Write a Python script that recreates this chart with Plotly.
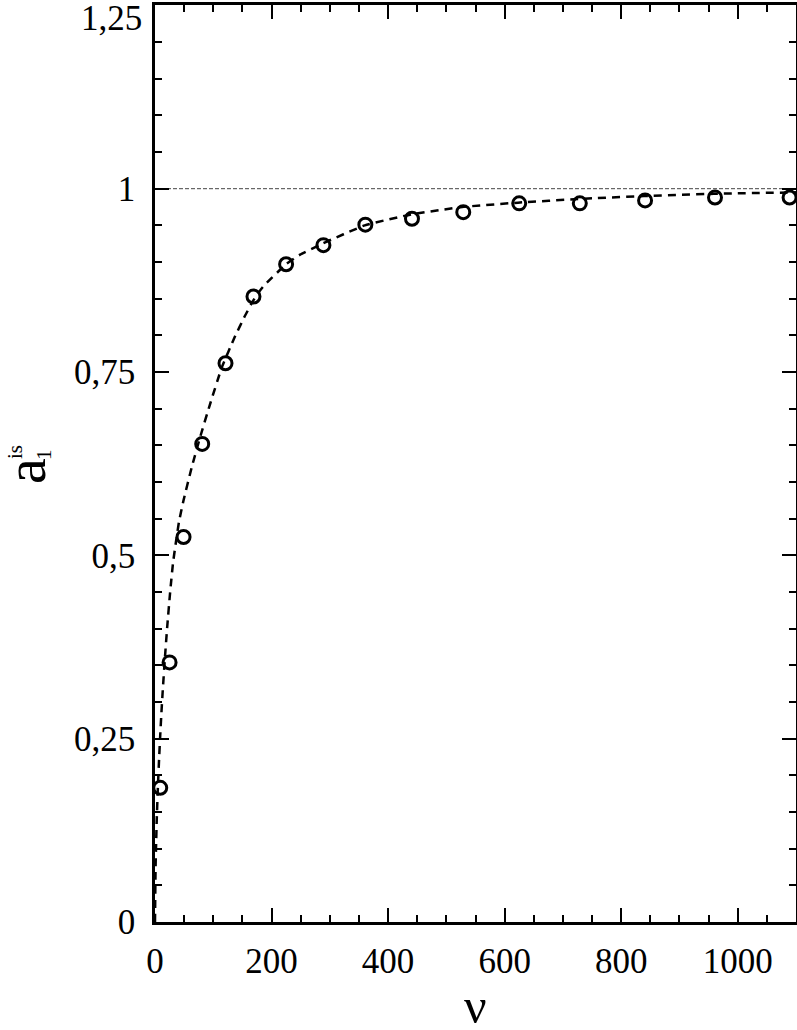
import plotly.graph_objects as go

# measured points (nu = n^2)
nu_pts = [9, 25, 49, 81, 121, 169, 225, 289, 361, 441, 529, 625, 729, 841, 961, 1089]
a_pts = [0.183, 0.354, 0.525, 0.652, 0.762, 0.853, 0.897, 0.923, 0.951, 0.959,
         0.968, 0.980, 0.980, 0.984, 0.988, 0.988]

# fitted curve
nu_fit = [0, 1, 2, 3, 5, 7, 9, 11, 13, 17, 21, 26, 31, 41, 49, 63, 77, 94, 115, 137,
          154, 169, 185, 225, 249, 287, 360, 440, 527, 623, 728, 839, 959, 1100]
a_fit = [0, 0.075, 0.11, 0.14, 0.185, 0.222, 0.255, 0.285, 0.312, 0.36, 0.403, 0.45,
         0.49, 0.545, 0.575, 0.62, 0.66, 0.705, 0.757, 0.798, 0.826, 0.848, 0.866,
         0.897, 0.91, 0.925, 0.950, 0.965, 0.975, 0.981, 0.986, 0.990, 0.993, 0.995]

# limit line
nu_lim = [0, 1100]
a_lim = [1, 1]

x_ticks = [0, 200, 400, 600, 800, 1000]
x_labels = ["0", "200", "400", "600", "800", "1000"]
y_ticks = [0, 0.25, 0.5, 0.75, 1, 1.25]
y_labels = ["0", "0,25", "0,5", "0,75", "1", ""]
y_top_label = "1,25"

FONT = "Liberation Serif"

fig = go.Figure()
fig.add_trace(go.Scatter(x=nu_lim, y=a_lim, mode="lines",
                         line=dict(color="#444444", width=1, dash="4px,2px"),
                         showlegend=False, hoverinfo="skip"))
fig.add_trace(go.Scatter(x=nu_fit, y=a_fit, mode="lines",
                         line=dict(color="black", width=2.5, dash="8px,6px",
                                   shape="spline", smoothing=0.4),
                         showlegend=False))
fig.add_trace(go.Scatter(x=nu_pts, y=a_pts, mode="markers",
                         marker=dict(symbol="circle-open", size=13, color="black",
                                     line=dict(width=3, color="black")),
                         showlegend=False))

axis_common = dict(
    showline=True, linecolor="black", linewidth=2.5, mirror="ticks",
    ticks="inside", ticklen=14, tickwidth=2, tickcolor="black",
    showgrid=False, zeroline=False,
    tickfont=dict(family=FONT, size=35, color="black"),
)

fig.update_xaxes(range=[0, 1100], tickvals=x_ticks, ticktext=x_labels,
                 minor=dict(dtick=50, tick0=0, ticks="inside", ticklen=7, tickwidth=2,
                            tickcolor="black", showgrid=False),
                 ticklabelstandoff=6,
                 **axis_common)
fig.update_yaxes(range=[0, 1.2505], tickvals=y_ticks, ticktext=y_labels,
                 minor=dict(dtick=0.05, tick0=0, ticks="inside", ticklen=7, tickwidth=2,
                            tickcolor="black", showgrid=False),
                 ticklabelstandoff=10,
                 **axis_common)

W, H = 797, 1030
ml, mr, mt, mb = 155, 1, 5, 108
pw, ph = W - ml - mr, H - mt - mb


def px(x):
    return (x - ml) / pw


def py(y):
    return (H - mb - y) / ph


annots = [
    dict(text="ν", x=px(475), y=py(1006), size=50, angle=0, xa="center"),
    dict(text="a", x=px(25), y=py(471), size=58, angle=-90, xa="center"),
    dict(text="1", x=px(44), y=py(454), size=21, angle=-90, xa="center"),
    dict(text="is", x=px(15), y=py(452), size=21, angle=-90, xa="center"),
    dict(text=y_top_label, x=px(144), y=py(18), size=35, angle=0, xa="right"),
]
for a in annots:
    fig.add_annotation(text=a["text"], x=a["x"], y=a["y"], xref="paper", yref="paper",
                       showarrow=False, textangle=a["angle"],
                       font=dict(family=FONT, size=a["size"], color="black"),
                       xanchor=a["xa"], yanchor="middle")

fig.update_layout(width=W, height=H,
                  margin=dict(l=ml, r=mr, t=mt, b=mb, autoexpand=False),
                  plot_bgcolor="white", paper_bgcolor="white",
                  font=dict(family=FONT, color="black"))

fig.write_html("out.html", config={"displayModeBar": False},
               post_script="document.body.style.margin='0px';"
                           "document.body.style.overflow='hidden';")
